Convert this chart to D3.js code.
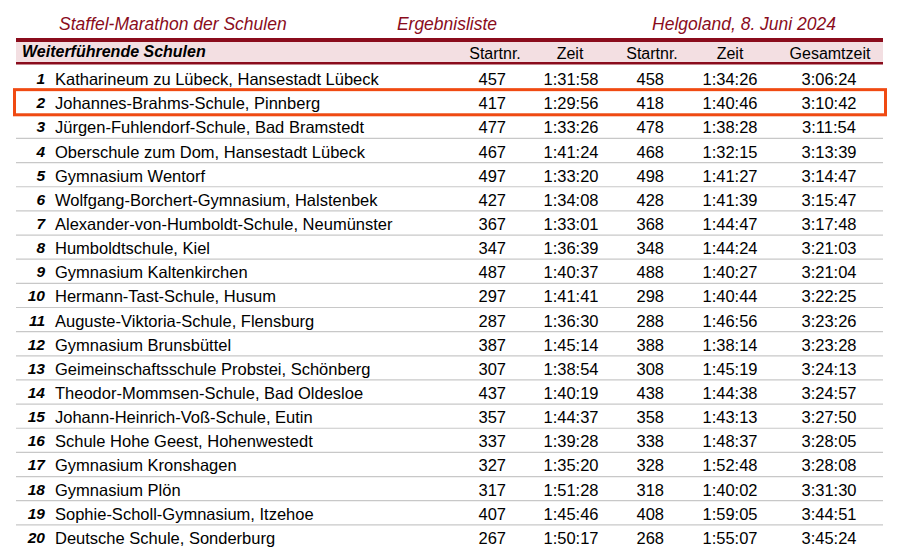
<!DOCTYPE html>
<html><head><meta charset="utf-8">
<script src="https://cdn.jsdelivr.net/npm/d3@7"></script>
<style>body{margin:0;background:#fff}text{font-family:"Liberation Sans",Arial,sans-serif}</style>
</head><body>
<svg id="chart" width="900" height="547"></svg>
<script>
// result list data
var ranks = d3.range(1, 21);
var schools = ["Katharineum zu Lübeck, Hansestadt Lübeck", "Johannes-Brahms-Schule, Pinnberg",
    "Jürgen-Fuhlendorf-Schule, Bad Bramstedt", "Oberschule zum Dom, Hansestadt Lübeck", "Gymnasium Wentorf",
    "Wolfgang-Borchert-Gymnasium, Halstenbek", "Alexander-von-Humboldt-Schule, Neumünster", "Humboldtschule, Kiel",
    "Gymnasium Kaltenkirchen", "Hermann-Tast-Schule, Husum", "Auguste-Viktoria-Schule, Flensburg",
    "Gymnasium Brunsbüttel", "Geimeinschaftsschule Probstei, Schönberg", "Theodor-Mommsen-Schule, Bad Oldesloe",
    "Johann-Heinrich-Voß-Schule, Eutin", "Schule Hohe Geest, Hohenwestedt", "Gymnasium Kronshagen",
    "Gymnasium Plön", "Sophie-Scholl-Gymnasium, Itzehoe", "Deutsche Schule, Sonderburg"];
var start1 = [457, 417, 477, 467, 497, 427, 367, 347, 487, 297, 287, 387, 307, 437, 357, 337, 327, 317, 407, 267];
var time1 = ["1:31:58", "1:29:56", "1:33:26", "1:41:24", "1:33:20", "1:34:08", "1:33:01", "1:36:39", "1:40:37", "1:41:41",
    "1:36:30", "1:45:14", "1:38:54", "1:40:19", "1:44:37", "1:39:28", "1:35:20", "1:51:28", "1:45:46", "1:50:17"];
var start2 = [458, 418, 478, 468, 498, 428, 368, 348, 488, 298, 288, 388, 308, 438, 358, 338, 328, 318, 408, 268];
var time2 = ["1:34:26", "1:40:46", "1:38:28", "1:32:15", "1:41:27", "1:41:39", "1:44:47", "1:44:24", "1:40:27", "1:40:44",
    "1:46:56", "1:38:14", "1:45:19", "1:44:38", "1:43:13", "1:48:37", "1:52:48", "1:40:02", "1:59:05", "1:55:07"];
var total = ["3:06:24", "3:10:42", "3:11:54", "3:13:39", "3:14:47", "3:15:47", "3:17:48", "3:21:03", "3:21:04", "3:22:25",
    "3:23:26", "3:23:28", "3:24:13", "3:24:57", "3:27:50", "3:28:05", "3:28:08", "3:31:30", "3:44:51", "3:45:24"];
var headers = ["Startnr.", "Zeit", "Startnr.", "Zeit", "Gesamtzeit"];
var highlightRank = 2;

var svg = d3.select("#chart");
var red = "#8a0c1c";
var fs = 16.5;

// row positions
var y = d3.scaleBand().domain(ranks).range([66, 549]).padding(0);

// title line
svg.append("text").attr("x", 59).attr("y", 30).attr("font-size", 17.5).attr("font-style", "italic").attr("fill", red).text("Staffel-Marathon der Schulen");
svg.append("text").attr("x", 447).attr("y", 30).attr("font-size", 17.5).attr("font-style", "italic").attr("fill", red).attr("text-anchor", "middle").text("Ergebnisliste");
svg.append("text").attr("x", 836).attr("y", 30).attr("font-size", 17.5).attr("font-style", "italic").attr("fill", red).attr("text-anchor", "end").text("Helgoland, 8. Juni 2024");

// header band
svg.append("rect").attr("x", 16).attr("y", 42).attr("width", 867).attr("height", 21).attr("fill", "#f3dfe2");
svg.append("rect").attr("x", 16).attr("y", 38).attr("width", 867).attr("height", 4).attr("fill", red);
svg.append("rect").attr("x", 16).attr("y", 62).attr("width", 867).attr("height", 2.5).attr("fill", red);
svg.append("text").attr("x", 22).attr("y", 57).attr("font-size", 16).attr("font-weight", "bold").attr("font-style", "italic").text("Weiterführende Schulen");

var headX = [495, 570, 652, 730, 830];
svg.selectAll(".head").data(headers).join("text")
    .attr("x", function(d, i) { return headX[i]; })
    .attr("y", 59).attr("font-size", 16).attr("text-anchor", "middle").text(function(d) { return d; });

// rows
var rows = svg.selectAll(".row").data(ranks).join("g")
    .attr("transform", function(d) { return "translate(0," + y(d) + ")"; });

rows.append("line").attr("x1", 16).attr("x2", 883)
    .attr("y1", y.bandwidth()).attr("y2", y.bandwidth())
    .attr("stroke", "#c8c8c8").attr("stroke-width", 1.2);

var baseY = y.bandwidth() / 2 + 7;
rows.append("text").attr("x", 45).attr("y", baseY - 1).attr("text-anchor", "end")
    .attr("font-size", 15.5).attr("font-weight", "bold").attr("font-style", "italic")
    .text(function(d) { return d; });
rows.append("text").attr("x", 55).attr("y", baseY).attr("font-size", fs)
    .text(function(d, i) { return schools[i]; });
rows.append("text").attr("x", 506).attr("y", baseY).attr("text-anchor", "end").attr("font-size", fs)
    .text(function(d, i) { return start1[i]; });
rows.append("text").attr("x", 571).attr("y", baseY).attr("text-anchor", "middle").attr("font-size", fs)
    .text(function(d, i) { return time1[i]; });
rows.append("text").attr("x", 664).attr("y", baseY).attr("text-anchor", "end").attr("font-size", fs)
    .text(function(d, i) { return start2[i]; });
rows.append("text").attr("x", 730).attr("y", baseY).attr("text-anchor", "middle").attr("font-size", fs)
    .text(function(d, i) { return time2[i]; });
rows.append("text").attr("x", 829).attr("y", baseY).attr("text-anchor", "middle").attr("font-size", fs)
    .text(function(d, i) { return total[i]; });

// highlight box
svg.append("rect").attr("x", 14.5).attr("y", y(highlightRank) - 0.5)
    .attr("width", 871).attr("height", y.bandwidth() + 1)
    .attr("fill", "none").attr("stroke", "#f04a12").attr("stroke-width", 3);
</script>
</body></html>
